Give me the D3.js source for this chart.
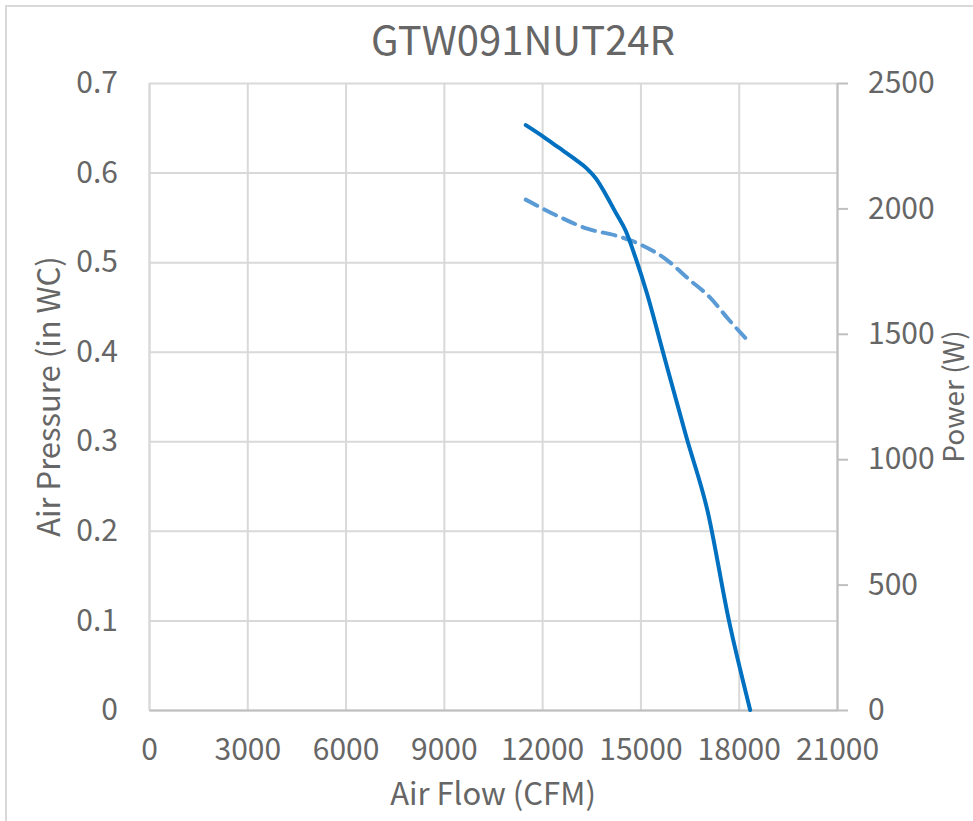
<!DOCTYPE html>
<html>
<head>
<meta charset="utf-8">
<script src="https://cdn.jsdelivr.net/npm/d3@7"></script>
<style>
  body { margin: 0; background: #fff; }
  svg { display: block; }
  text { font-family: "Noto Sans CJK TC", "Noto Sans", sans-serif; fill: #666; }
</style>
</head>
<body>
<svg id="chart" width="973" height="821"></svg>
<script>
// data
const chartTitle = "GTW091NUT24R";
const flowTicks = [0, 3000, 6000, 9000, 12000, 15000, 18000, 21000];
const pressureTicks = [0, 0.1, 0.2, 0.3, 0.4, 0.5, 0.6, 0.7];
const powerTicks = [0, 500, 1000, 1500, 2000, 2500];

const pressureFlow = [11500, 12000, 12500, 13000, 13350, 13650, 13950, 14250, 14550, 14850, 15200, 15700, 16400, 17050, 17700, 18350];
const pressureValues = [0.653, 0.641, 0.628, 0.615, 0.605, 0.593, 0.575, 0.555, 0.535, 0.505, 0.465, 0.398, 0.305, 0.222, 0.100, 0];

const powerFlow = [11500, 12500, 13400, 14300, 15000, 15800, 16500, 17100, 17700, 18350];
const powerValues = [2035, 1968, 1918, 1890, 1856, 1795, 1715, 1648, 1556, 1463];

const margin = { top: 83, right: 136, bottom: 111, left: 149 };
const width = 973, height = 821;
const chartWidth = width - margin.left - margin.right;
const chartHeight = height - margin.top - margin.bottom;

const svg = d3.select("#chart");

// outer chart frame
svg.append("rect")
  .attr("x", 6).attr("y", 6)
  .attr("width", width + 20).attr("height", height + 20)
  .attr("fill", "none")
  .attr("stroke", "#d9d9d9")
  .attr("stroke-width", 2);

const x = d3.scaleLinear().domain([0, 21000]).range([0, chartWidth]);
const yP = d3.scaleLinear().domain([0, 0.7]).range([chartHeight, 0]);
const yW = d3.scaleLinear().domain([0, 2500]).range([chartHeight, 0]);

const g = svg.append("g")
  .attr("transform", `translate(${margin.left},${margin.top})`);

// Gridlines
g.append("g")
  .call(d3.axisLeft(yP).tickValues(pressureTicks).tickSize(-chartWidth).tickFormat(""))
  .call((s) => s.select(".domain").remove())
  .selectAll("line")
  .attr("stroke", "#d9d9d9")
  .attr("stroke-width", 2);

g.append("g")
  .attr("transform", `translate(0,${chartHeight})`)
  .call(d3.axisBottom(x).tickValues(flowTicks).tickSize(-chartHeight).tickFormat(""))
  .call((s) => s.select(".domain").remove())
  .selectAll("line")
  .attr("stroke", "#d9d9d9")
  .attr("stroke-width", 2);

// Left axis labels
g.append("g")
  .call(d3.axisLeft(yP).tickValues(pressureTicks).tickSize(0).tickPadding(31)
    .tickFormat((d) => (d === 0 ? "0" : d3.format(".1f")(d))))
  .call((s) => s.select(".domain").attr("stroke", "#d9d9d9").attr("stroke-width", 2))
  .selectAll("text")
  .style("font-size", "30px")
  .attr("fill", "#666");

// Bottom axis
g.append("g")
  .attr("transform", `translate(0,${chartHeight})`)
  .call(d3.axisBottom(x).tickValues(flowTicks).tickSize(0).tickPadding(29).tickFormat(d3.format("d")))
  .call((s) => s.select(".domain").attr("stroke", "#bfbfbf").attr("stroke-width", 2))
  .selectAll("text")
  .style("font-size", "30px")
  .attr("fill", "#666");

// Right axis
g.append("g")
  .attr("transform", `translate(${chartWidth},0)`)
  .call(d3.axisRight(yW).tickValues(powerTicks).tickSize(11).tickPadding(20).tickSizeOuter(0).tickFormat(d3.format("d")))
  .call((s) => s.select(".domain").attr("stroke", "#bfbfbf").attr("stroke-width", 2))
  .call((s) => s.selectAll("line").attr("stroke", "#bfbfbf").attr("stroke-width", 2))
  .selectAll("text")
  .style("font-size", "30px")
  .attr("fill", "#666");

// Lines
const pressureData = pressureFlow.map((f, i) => ({ flow: f, value: pressureValues[i] }));
const powerData = powerFlow.map((f, i) => ({ flow: f, value: powerValues[i] }));

const pressureLine = d3.line()
  .x((d) => x(d.flow))
  .y((d) => yP(d.value))
  .curve(d3.curveMonotoneX);

const powerLine = d3.line()
  .x((d) => x(d.flow))
  .y((d) => yW(d.value))
  .curve(d3.curveMonotoneX);

g.append("path")
  .attr("d", powerLine(powerData))
  .attr("fill", "none")
  .attr("stroke", "#5b9bd5")
  .attr("stroke-width", 4)
  .attr("stroke-dasharray", "13,8")
  .attr("stroke-linecap", "round");

g.append("path")
  .attr("d", pressureLine(pressureData))
  .attr("fill", "none")
  .attr("stroke", "#0070c0")
  .attr("stroke-width", 4)
  .attr("stroke-linecap", "round")
  .attr("stroke-linejoin", "round");

// Titles
svg.append("text")
  .attr("x", 523)
  .attr("y", 55)
  .attr("text-anchor", "middle")
  .style("font-size", "40px")
  .text(chartTitle);

svg.append("text")
  .attr("x", margin.left + chartWidth / 2)
  .attr("y", 805)
  .attr("text-anchor", "middle")
  .style("font-size", "31px")
  .text("Air Flow (CFM)");

svg.append("text")
  .attr("transform", `translate(60,${margin.top + chartHeight / 2}) rotate(-90)`)
  .attr("text-anchor", "middle")
  .style("font-size", "31px")
  .text("Air Pressure (in WC)");

svg.append("text")
  .attr("transform", `translate(964,${margin.top + chartHeight / 2}) rotate(-90)`)
  .attr("text-anchor", "middle")
  .style("font-size", "28px")
  .text("Power (W)");
</script>
</body>
</html>
